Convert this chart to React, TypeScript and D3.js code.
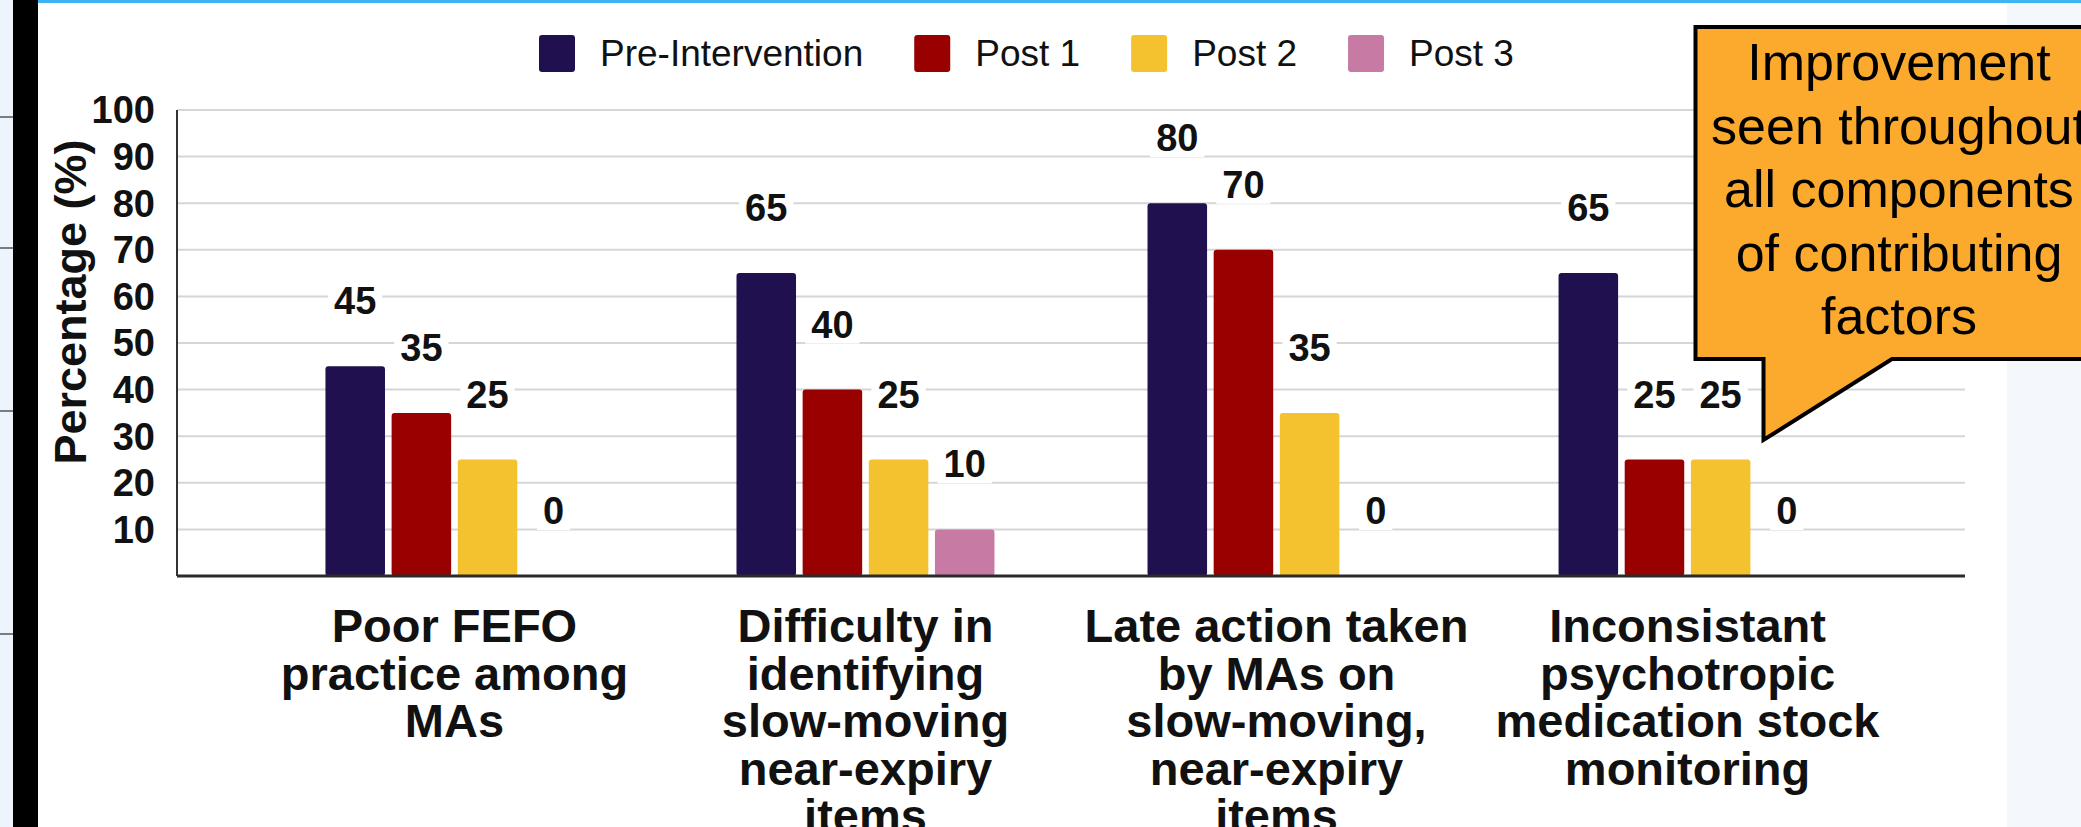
import { scaleBand, scaleLinear, scaleOrdinal } from "d3";
import { useMemo } from "react";

const categories = ["FEFO", "Identify", "LateAction", "Psychotropic"];
const categoryLines = [
  ["Poor FEFO", "practice among", "MAs"],
  ["Difficulty in", "identifying", "slow-moving", "near-expiry", "items"],
  ["Late action taken", "by MAs on", "slow-moving,", "near-expiry", "items"],
  ["Inconsistant", "psychotropic", "medication stock", "monitoring"],
];
const seriesNames = ["Pre-Intervention", "Post 1", "Post 2", "Post 3"];
const preIntervention = [45, 65, 80, 65];
const post1 = [35, 40, 70, 25];
const post2 = [25, 25, 35, 25];
const post3 = [0, 10, 0, 0];
const seriesValues = [preIntervention, post1, post2, post3];
const seriesColors = ["#201050", "#990000", "#f4c22f", "#c77aa4"];
const yTicks = [10, 20, 30, 40, 50, 60, 70, 80, 90, 100];
const yTitle = "Percentage (%)";
const calloutLines = [
  "Improvement",
  "seen throughout",
  "all components",
  "of contributing",
  "factors",
];

const W = 2081;
const H = 827;
const FONT = "'Liberation Sans', Arial, Helvetica, sans-serif";

const measure = (text: string, font: string) => {
  const ctx = document.createElement("canvas").getContext("2d");
  if (!ctx) return text.length * 20;
  ctx.font = font;
  return ctx.measureText(text).width;
};

export default function App() {
  const x0 = useMemo(
    () =>
      scaleBand<string>()
        .domain(categories)
        .range([177, 1965])
        .paddingInner(0)
        .paddingOuter(0.175),
    []
  );
  const x1 = useMemo(
    () => scaleBand<string>().domain(seriesNames).range([-129, 129]).paddingInner(0.1),
    []
  );
  const y = useMemo(() => scaleLinear().domain([0, 100]).range([576, 110]), []);
  const color = scaleOrdinal<string, string>().domain(seriesNames).range(seriesColors);

  // legend laid out from measured text widths
  const legendFont = `37px ${FONT}`;
  const legendItems = useMemo(() => {
    let cx = 539;
    return seriesNames.map((name) => {
      const item = { name, x: cx };
      cx += 36 + 25 + measure(name, legendFont) + 51;
      return item;
    });
  }, []);

  const labelFont = `bold 38px ${FONT}`;

  return (
    <svg
      width={W}
      height={H}
      viewBox={`0 0 ${W} ${H}`}
      style={{ position: "absolute", left: 0, top: 0, fontFamily: FONT }}
    >
      {/* slide background */}
      <rect x={0} y={0} width={W} height={H} fill="#f4f8fc" />
      <rect x={38} y={0} width={1969} height={H} fill="#ffffff" />
      <rect x={0} y={0} width={13} height={H} fill="#edf4fb" />
      {[117, 248, 411, 634].map((ly) => (
        <line key={ly} x1={0} x2={13} y1={ly} y2={ly} stroke="#555" strokeWidth={1.5} />
      ))}
      <rect x={13} y={0} width={25} height={H} fill="#000" />
      <rect x={38} y={0} width={W - 38} height={3} fill="#3fb4f3" />

      {/* gridlines */}
      {yTicks.map((t) => (
        <line
          key={t}
          x1={177}
          x2={1965}
          y1={y(t)}
          y2={y(t)}
          stroke="#d6d6d6"
          strokeWidth={2}
        />
      ))}

      {/* y tick labels */}
      {yTicks.map((t) => (
        <text
          key={t}
          x={155}
          y={y(t)}
          dy="0.35em"
          textAnchor="end"
          fontSize={38}
          fontWeight="bold"
          fill="#111"
        >
          {t}
        </text>
      ))}

      <text
        transform={`translate(86, 302) rotate(-90)`}
        textAnchor="middle"
        fontSize={45}
        fontWeight="bold"
        fill="#111"
      >
        {yTitle}
      </text>

      {/* bars */}
      {categories.map((c, ci) => (
        <g key={c} transform={`translate(${x0(c)! + x0.bandwidth() / 2},0)`}>
          {seriesNames.map((s, si) => {
            const v = seriesValues[si][ci];
            const bx = x1(s)!;
            const bw = x1.bandwidth();
            return v > 0 ? (
              <rect
                key={s}
                x={bx}
                y={y(v)}
                width={bw}
                height={y(0) - y(v)}
                rx={3}
                fill={color(s)}
              />
            ) : null;
          })}
        </g>
      ))}

      {/* value labels */}
      {categories.map((c, ci) => (
        <g key={c} transform={`translate(${x0(c)! + x0.bandwidth() / 2},0)`}>
          {seriesNames.map((s, si) => {
            const v = seriesValues[si][ci];
            const cx = x1(s)! + x1.bandwidth() / 2;
            const by = y(v) - 52;
            const tw = measure(String(v), labelFont);
            return (
              <g key={s}>
                <rect
                  x={cx - tw / 2 - 6}
                  y={by - 30}
                  width={tw + 12}
                  height={36}
                  fill="#fff"
                />
                <text
                  x={cx}
                  y={by}
                  textAnchor="middle"
                  fontSize={38}
                  fontWeight="bold"
                  fill="#111"
                >
                  {v}
                </text>
              </g>
            );
          })}
        </g>
      ))}

      {/* axes */}
      <line x1={177} x2={177} y1={y(100)} y2={y(0)} stroke="#333" strokeWidth={2} />
      <line x1={177} x2={1965} y1={y(0)} y2={y(0)} stroke="#2a2a2a" strokeWidth={3} />

      {/* category labels */}
      {categories.map((c, ci) => (
        <text
          key={c}
          x={x0(c)! + x0.bandwidth() / 2}
          y={642}
          textAnchor="middle"
          fontSize={47}
          fontWeight="bold"
          fill="#111"
        >
          {categoryLines[ci].map((line, li) => (
            <tspan key={li} x={x0(c)! + x0.bandwidth() / 2} y={642 + li * 47.5}>
              {line}
            </tspan>
          ))}
        </text>
      ))}

      {/* legend */}
      {legendItems.map((it) => (
        <g key={it.name}>
          <rect x={it.x} y={35} width={36} height={37} rx={3} fill={color(it.name)} />
          <text x={it.x + 36 + 25} y={53.5} dy="0.35em" fontSize={37} fill="#111">
            {it.name}
          </text>
        </g>
      ))}

      {/* callout */}
      <path
        d="M1695.5,27 L2100,27 L2100,359 L1892,359 L1763.5,440 L1763.5,359 L1695.5,359 Z"
        fill="#fbaa2e"
        stroke="#000"
        strokeWidth={4}
        strokeLinejoin="miter"
      />
      <text textAnchor="middle" fontSize={52} fill="#000">
        {calloutLines.map((line, i) => (
          <tspan key={i} x={1899} y={80 + i * 63.5}>
            {line}
          </tspan>
        ))}
      </text>
    </svg>
  );
}
